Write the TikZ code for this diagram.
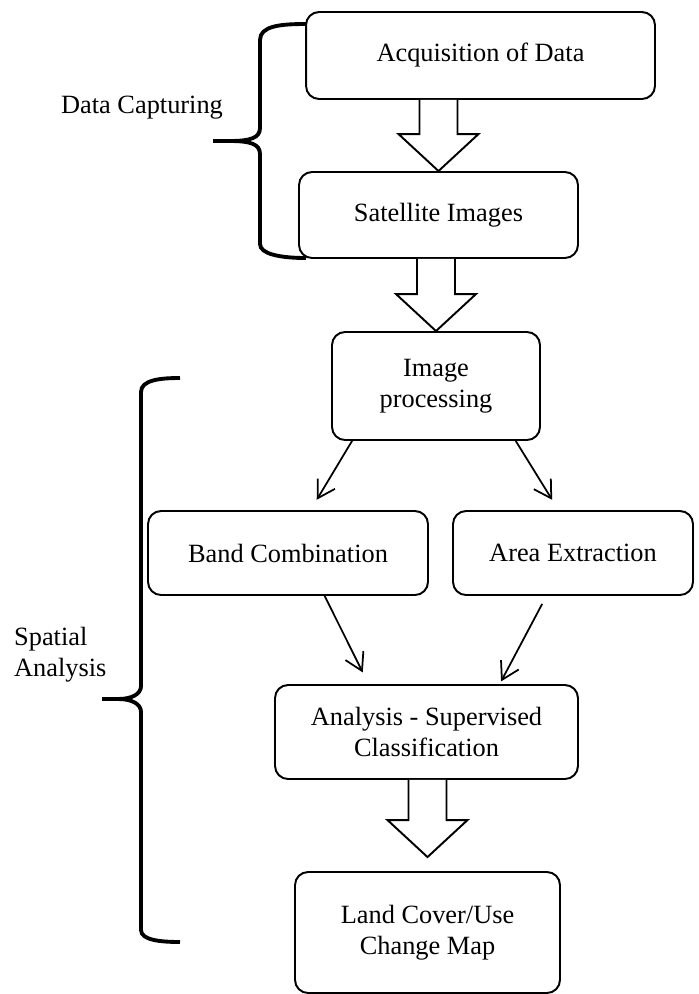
\documentclass[tikz,border=0pt]{standalone}
\usepackage{fontspec}
\setmainfont{Liberation Serif}
\usetikzlibrary{calc,arrows.meta}
\tikzset{
    flow-box/.style = {draw=black, fill=white, line width=1.1pt, rectangle, rounded corners=0.26cm, align=center, inner sep=2pt, font=\fontsize{15}{17.5}\selectfont},
    fat-arrow/.style = {draw=black, fill=white, line width=1.1pt, line join=miter},
    thin-arrow/.style = {line width=1pt, -{Straight Barb[length=0.34cm,width=0.4cm]}},
    brace-line/.style = {line width=2.2pt},
    side-label/.style = {font=\fontsize{15}{17.5}\selectfont, align=left},
}
\newcommand{\fatarrow}[3][0pt]{%
  \draw[fat-arrow] let \p1=(#2.south), \p2=(#3.north) in
    ({\x2-0.38cm},\y1) -- ({\x2-0.38cm},{\y2+0.74cm+#1}) -- ({\x2-0.8cm},{\y2+0.74cm+#1})
    -- (\x2,{\y2+#1}) -- ({\x2+0.8cm},{\y2+0.74cm+#1}) -- ({\x2+0.38cm},{\y2+0.74cm+#1})
    -- ({\x2+0.38cm},\y1);}

\begin{document}
\begin{tikzpicture}[x=0.02cm, y=-0.02cm]
\useasboundingbox (0,0) rectangle (698,994);

\node[flow-box, minimum width=6.98cm, minimum height=1.74cm] (acq) at (480.5,55.5) {Acquisition of Data};
\node[flow-box, minimum width=5.58cm, minimum height=1.72cm] (sat) at (438.5,215) {Satellite Images};
\node[flow-box, minimum width=4.16cm, minimum height=2.16cm] (ip) at (436,386) {Image\\processing};
\node[flow-box, minimum width=5.6cm, minimum height=1.68cm] (band) at (288,553) {Band Combination};
\node[flow-box, minimum width=4.8cm, minimum height=1.68cm] (area) at (573,553) {Area Extraction};
\node[flow-box, minimum width=6.06cm, minimum height=1.88cm] (ana) at (426.5,732) {Analysis - Supervised\\Classification};
\node[flow-box, minimum width=5.3cm, minimum height=2.42cm] (land) at (427.5,932.5) {Land Cover/Use\\Change Map};

\fatarrow{acq}{sat}
\fatarrow{sat}{ip}
\fatarrow[0.28cm]{ana}{land}

\draw[thin-arrow, shorten >=0.24cm] ($(ip.south west)!0.1!(ip.south east)$) -- ($(band.north west)!0.58!(band.north east)$);
\draw[thin-arrow, shorten >=0.24cm] ($(ip.south west)!0.88!(ip.south east)$) -- ($(area.north west)!0.44!(area.north east)$);
\draw[thin-arrow, shorten >=0.26cm] ($(band.south west)!0.63!(band.south east)$) -- ($(ana.north west)!0.31!(ana.north east)$);
\draw[thin-arrow, shorten <=0.18cm, shorten >=0.06cm] ($(area.south west)!0.39!(area.south east)$) -- ($(ana.north west)!0.74!(ana.north east)$);

\draw[brace-line] (306,24) .. controls (280,24) and (260,26) .. (260,40) -- (260,128)
  .. controls (260,138) and (250,141) .. (230,141) -- (213,141) -- (230,141)
  .. controls (250,141) and (260,144) .. (260,154) -- (260,244)
  .. controls (260,254) and (280,258) .. (306,258);
\draw[brace-line] (180,378) .. controls (160,378) and (141,380) .. (141,392) -- (141,686)
  .. controls (141,694) and (132,699) .. (118,699) -- (102,699) -- (118,699)
  .. controls (132,699) and (141,704) .. (141,712) -- (141,930)
  .. controls (141,940) and (160,942) .. (180,942);

\node[side-label] (capture) at (142,108) {Data Capturing};
\node[side-label, anchor=west] (spatial) at (8,655) {Spatial\\Analysis};
\end{tikzpicture}
\end{document}
